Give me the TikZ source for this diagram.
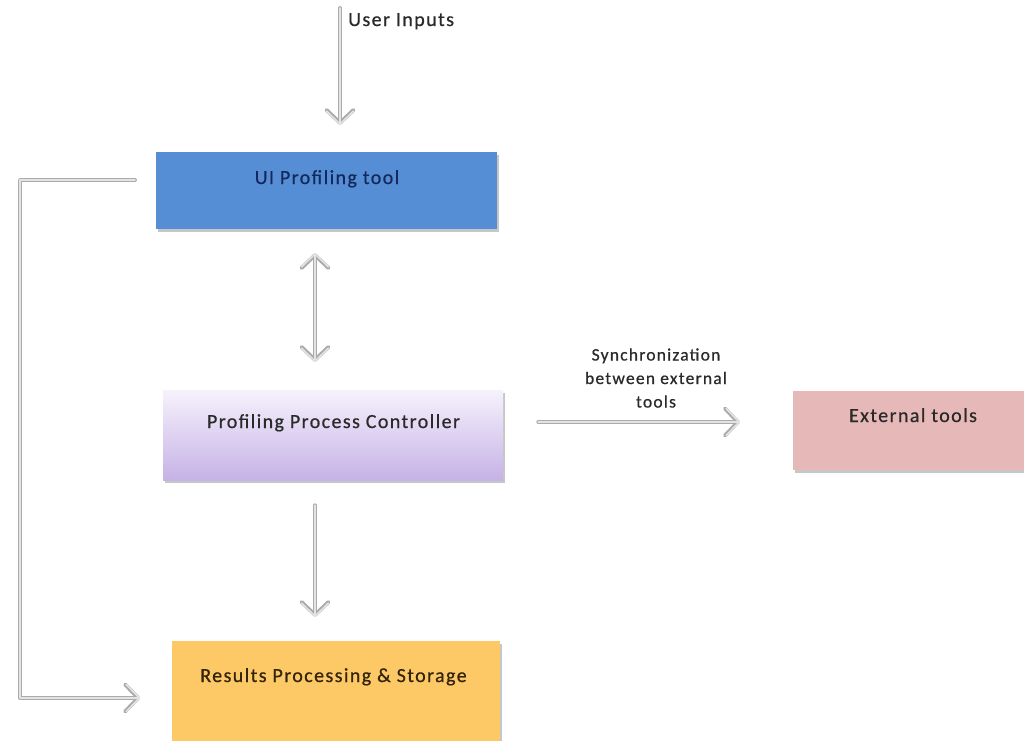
\documentclass[tikz,border=0pt]{standalone}
\usepackage{fontspec}
\setmainfont{Carlito}[LetterSpace=7, FakeBold=0.6]
\usetikzlibrary{arrows.meta,shadows}
\definecolor{uiblue}{HTML}{558ED5}
\definecolor{uitext}{HTML}{14285C}
\definecolor{ctrltop}{HTML}{F6F2FC}
\definecolor{ctrlbot}{HTML}{C6B2E6}
\definecolor{extred}{HTML}{E6B9B8}
\definecolor{resorange}{HTML}{FDC966}
\definecolor{txt}{HTML}{2A2A2A}
\definecolor{restext}{HTML}{33240C}
\definecolor{connout}{HTML}{ABABAB}
\definecolor{connin}{HTML}{E4E4E4}
\begin{document}
\begin{tikzpicture}[x=1pt,y=-1pt,
  box/.style={rectangle, draw=none, inner sep=0pt,
    drop shadow={shadow xshift=1.5pt, shadow yshift=-2.5pt, fill=black, opacity=0.22}},
  lbl/.style={anchor=base, inner sep=0pt, font=\fontsize{20}{24}\selectfont, text=txt},
  small/.style={inner sep=0pt, align=center, font=\fontsize{17.5}{23.5}\selectfont, text=txt},
  tip/.tip={Straight Barb[length=13pt, width=27pt, line cap=round, line join=round]},
  conn/.style={draw=connout, line width=3.8pt, line cap=round, line join=round,
    postaction={draw=connin, line width=1.5pt}},
]
\fill[white] (0,0) rectangle (1024,740);
\clip (0,0) rectangle (1024,740);

% boxes
\node[box, fill=uiblue, minimum width=341pt, minimum height=77pt] (ui) at (326.5,190.5) {};
\node[box, top color=ctrltop, bottom color=ctrlbot, minimum width=340pt, minimum height=90pt] (ctrl) at (333,435) {};
\node[box, fill=extred, minimum width=245pt, minimum height=79pt] (ext) at (915.5,430.5) {};
\node[box, fill=resorange, minimum width=328pt, minimum height=109pt] (res) at (336,695.5) {};

% box captions
\node[lbl, text=uitext] (uilabel) at (327,184) {UI Profiling tool};
\node[lbl] (ctrllabel) at (333.5,428) {Profiling Process Controller};
\node[lbl] (extlabel) at (913,422) {External tools};
\node[lbl, text=restext] (reslabel) at (333.5,682) {Results Processing \& Storage};

% free connector ends
\coordinate (uin) at (340,8);
\coordinate (xa) at (315,0);
\coordinate (sy) at (0,422);
\coordinate (fbstart) at (135,180);
\coordinate (fbtop) at (20,180);
\coordinate (fbbot) at (20,698);
\coordinate (fbend) at (140,698);

\node[lbl, anchor=base west] (uinlabel) at (348,26) {User Inputs};
\node[small] (synclabel) at (656,378) {Synchronization\\between external\\tools};

% connectors
\draw[conn, -tip] (uin) -- ([yshift=27pt]ui.north -| uin);
\draw[conn, tip-tip] ([yshift=-24pt]ui.south -| xa) -- ([yshift=28pt]ctrl.north -| xa);
\draw[conn, -tip] ([yshift=-25pt]ctrl.south -| xa) -- ([yshift=24pt]res.north -| xa);
\draw[conn, -tip] ([xshift=35pt]ctrl.east |- sy) -- ([xshift=-53pt]ext.west |- sy);
\draw[conn, -tip] (fbstart) -- (fbtop) -- (fbbot) -- (fbend);
\end{tikzpicture}
\end{document}
